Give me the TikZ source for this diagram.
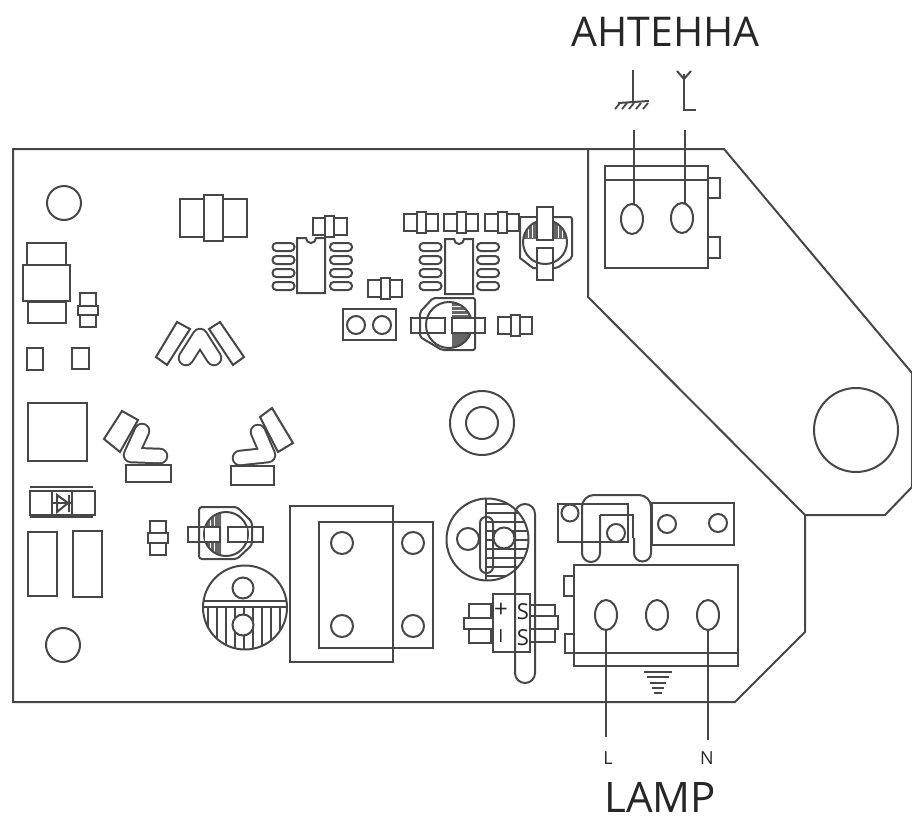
\documentclass[tikz,border=0pt]{standalone}
\usepackage{fontspec}
\setmainfont{Open Sans}
\colorlet{ink}{black!72}
\tikzset{
 ln/.style={line width=2pt,draw=ink},
 thin ln/.style={line width=2pt,draw=ink},
 lbl/.style={inner sep=0pt,text=black!85}
}
\newcommand{\Chip}[3]{%
 \begin{scope}[shift={(#1,#2)},rotate=#3]
 \draw[thin ln] (-17,-8.5) rectangle (17,8.5);
 \draw[thin ln,fill=white] (-4.5,-10.5) rectangle (4.5,10.5);
 \end{scope}}
\newcommand{\Pads}[2]{%
 \foreach \k in {0,1,2,3}{
  \draw[thin ln,rounded corners=3.8pt] (#1-11,#2+\k*13-4) rectangle (#1+11,#2+\k*13+4);}}
\newcommand{\Soic}[2]{%
 \draw[thin ln] (#1,#2) -- (#1+9,#2) arc[start angle=180,end angle=0,radius=5] -- (#1+28,#2) -- (#1+28,#2+55) -- (#1,#2+55) -- cycle;}
\newcommand{\Capsule}[1]{%
 \draw[line width=16.5pt,draw=ink,line cap=round,line join=round] #1;
 \draw[line width=12.5pt,draw=white,line cap=round,line join=round] #1;}
\begin{document}
\begin{tikzpicture}[x=1pt,y=-1pt]
\useasboundingbox (0,0) rectangle (912,819);
% board
\draw[ln] (13,149) -- (724,149) -- (912,373) -- (912,487) -- (885,515) -- (805,515) -- (805,632) -- (735,702) -- (13,702) -- cycle;
\draw[ln] (588,149) -- (588,297) -- (805,515);
% antenna block
\draw[ln] (605,166) rectangle (708,268);
\draw[ln] (605,180) -- (708,180);
\draw[ln] (708,178) rectangle (720,198);
\draw[ln] (708,237) rectangle (720,258);
\draw[ln] (632,219) ellipse (11 and 15);
\draw[ln] (682,218) ellipse (11 and 15);
\coordinate (a1) at (634,130); \coordinate (a2) at (685,130);
\draw[ln] (a1) -- (634,204);
\draw[ln] (a2) -- (685,203);
% ground symbol
\draw[ln] (633,70) -- (633,102);
\draw[thin ln] (618,103) -- (649,101);
\foreach \i in {0,1,2,3,4}{\draw[line width=1.8pt,draw=ink] (620+\i*7,103) -- (615+\i*7,109);}
% antenna symbol
\draw[ln] (684,74) -- (684,110) -- (696,110);
\draw[thin ln] (677,71) -- (684,79) -- (691,71);
% mount holes
\draw[ln] (856,430) circle (42);
\draw[ln] (64,203) circle (17);
\draw[ln] (63,645) circle (17);
\draw[ln] (482,423) circle (32);
\draw[ln] (482,423) circle (16);
% left top component
\draw[ln] (27,243) rectangle (66,265);
\draw[ln] (28,302) rectangle (66,323);
\draw[ln,fill=white] (23,265) rectangle (70,301);
\draw[thin ln] (80,293) rectangle (96,327);
\draw[thin ln,fill=white] (78,306) rectangle (98,315);
\draw[ln] (27,348) rectangle (43,370);
\draw[ln] (72,348) rectangle (89,369);
% big resistor top
\draw[ln] (180,199) rectangle (247,237);
\draw[ln,fill=white] (204,195) rectangle (223,241);
% V group
\draw[ln] (177,322) -- (190,329) -- (167,365) -- (156,357) -- cycle;
\draw[ln] (220,322) -- (209,329) -- (233,365) -- (244,357) -- cycle;
\Capsule{(186,358) -- (200,336) -- (214,358)}
% SOIC left
\Chip{329.5}{226}{0}
\Soic{297}{238}
\Pads{283.5}{247}
\Pads{341}{247}
% SOIC right
\Chip{421}{222}{0}
\Chip{461}{222}{0}
\Chip{502}{222}{0}
\Soic{445}{239}
\Pads{430.5}{247}
\Pads{488}{247}
\Chip{385}{288}{0}
\Chip{515}{325.5}{0}
% jumper
\draw[ln] (343,309) rectangle (396,340);
\draw[thin ln] (356,325) circle (9);
\draw[thin ln] (382,325) circle (9);
% capacitor middle
\begin{scope}
\clip (452,300) rectangle (476,350);
\fill[black!60] (449,325) circle (23);
\foreach \y in {306,310,314}{\draw[white,line width=.7pt] (452,\y) -- (476,\y);}
\end{scope}
\draw[thin ln,fill=white] (411,318) rectangle (445,333);
\draw[thin ln,fill=white] (452,318) rectangle (485,333);
\draw[ln] (449,325) circle (23);
\fill[white] (453,319) rectangle (484,332);
\fill[white] (412,319) rectangle (420,332);
\draw[ln,rounded corners=2pt] (433,298) -- (475,298) -- (475,350) -- (442,350) -- (420,337) -- (420,312) -- cycle;
% capacitor top right
\begin{scope}
\clip (520,220) rectangle (570,238);
\fill[black!60] (545,242) circle (22);
\foreach \x in {528,532,558,562}{\draw[white,line width=.7pt] (\x,220) -- (\x,238);}
\end{scope}
\draw[thin ln,fill=white] (537,207) rectangle (553,240);
\draw[thin ln,fill=white] (537,248) rectangle (553,280);
\draw[ln] (545,242) circle (22);
\fill[white] (538,208) rectangle (552,239);
\fill[white] (538,249) rectangle (552,255);
\draw[ln] (520,217) -- (537,217);
\draw[ln,rounded corners=2pt] (553,217) -- (572,217) -- (572,258) -- (557,268) -- (553,268);
\draw[ln] (537,268) -- (533,268) -- (520,258) -- (520,217);
% Left V pieces
\draw[ln] (122,411) -- (138,420) -- (120,452) -- (104,439) -- cycle;
\Capsule{(142,431) -- (131,455) -- (160,456)}
\draw[ln] (126,465) rectangle (171,482);
\draw[ln] (272,408) -- (293,443) -- (278,452) -- (260,417) -- cycle;
\Capsule{(258,432) -- (268,455) -- (240,458)}
\draw[ln] (231,466) rectangle (274,485);
% square
\draw[ln] (28,403) rectangle (87,461);
% diode
\draw[ln] (30,487) -- (93,487);
\draw[ln] (30,491) rectangle (95,515);
\draw[ln] (30,517) -- (93,517);
\draw[thin ln] (52,491) -- (52,515);
\draw[thin ln] (72,491) -- (72,515);
\draw[thin ln] (57,495) -- (68,503) -- (57,512) -- cycle;
\draw[thin ln] (69,495) -- (69,512);
\draw[thin ln] (52,503) -- (72,503);
% rects
\draw[ln] (28,532) rectangle (57,596);
\draw[ln] (73,531) rectangle (102,597);
% small vertical chip
\draw[thin ln] (150,521) rectangle (166,555);
\draw[thin ln,fill=white] (148,533) rectangle (168,543);
% cap lower left
\begin{scope}
\clip (204,510) rectangle (221,558);
\fill[black!60] (226,534) circle (22);
\foreach \x in {210,214}{\draw[white,line width=.7pt] (\x,510) -- (\x,558);}
\end{scope}
\draw[thin ln,fill=white] (188,527) rectangle (220,542);
\draw[thin ln,fill=white] (228,527) rectangle (263,542);
\draw[ln] (226,534) circle (22);
\fill[white] (205,528) rectangle (219,541);
\fill[white] (229,528) rectangle (247,541);
\draw[ln,rounded corners=3pt] (199,507) -- (237,507) -- (252,522) -- (252,545) -- (237,559) -- (199,559) -- cycle;
% hatched cap lower-left
\begin{scope}
\clip (245,607.5) circle (42);
\foreach \x in {208,217,...,281}{\draw[thin ln] (\x,606) -- (\x,650);}
\draw[ln] (200,601) -- (290,601);
\draw[ln] (200,607) -- (290,607);
\end{scope}
\draw[ln] (245,607.5) circle (42);
\draw[ln,fill=white] (243,588) circle (10.5);
\draw[ln,fill=white] (243,625) circle (10.5);
% big relay
\draw[ln] (290,506) rectangle (393,662);
\draw[ln] (319,522) rectangle (433,648);
\foreach \p in {(342,543),(413,543),(342,626),(413,626)}{\draw[ln] \p circle (11);}
% hatched cap right
\begin{scope}
\clip (487.5,539.5) circle (41);
\foreach \y in {504,513,...,576}{\draw[thin ln] (486,\y) -- (530,\y);}
\draw[thin ln] (486,495) -- (486,585);
\end{scope}
\draw[ln] (487.5,539.5) circle (41);
\draw[ln,rounded corners=6pt] (480,517) rectangle (493,573);
\draw[ln,fill=white] (468,539) circle (11);
\draw[ln,fill=white] (504,538) circle (10.5);
% sensor block
\draw[thin ln] (469,604) rectangle (491,643);
\draw[thin ln,fill=white] (464,618) rectangle (493,629);
\draw[thin ln] (530,605) rectangle (555,642);
\draw[thin ln,fill=white] (530,616) rectangle (558,629);
\draw[ln,fill=white] (493,594) rectangle (530,652);
\node[lbl,font=\fontsize{24}{24}\selectfont] (plus) at (501,610) {+};
\node[lbl,font=\fontsize{18}{18}\selectfont] (minus) at (501,636) {I};
\node[lbl,font=\fontsize{22}{22}\selectfont] (s1) at (523,612) {S};
\node[lbl,font=\fontsize{22}{22}\selectfont] (s2) at (523,638) {S};
% long loop
\draw[ln,rounded corners=9.9pt] (515,504) rectangle (535,683);
% right top jumper pads
\draw[ln] (558,504) rectangle (628,542);
\draw[ln] (570,513) circle (8.5);
\draw[ln] (616,533) circle (9);
\draw[ln] (652,503) rectangle (734,545);
\draw[ln] (667,524) circle (9);
\draw[ln] (718,523) circle (9);
\draw[ln] (600,515) -- (600,553) arc[start angle=0,end angle=180,radius=9] -- (582,507) arc[start angle=180,end angle=270,radius=12] -- (639,495) arc[start angle=270,end angle=360,radius=12] -- (651,553) arc[start angle=0,end angle=180,radius=8.5] -- (634,538);
\draw[ln] (600,515) -- (633,515) -- (633,538);
% lamp block
\draw[ln] (574,565) rectangle (738,666);
\draw[ln] (565,653) -- (738,653);
\draw[ln] (564,576) rectangle (574,596);
\draw[ln] (565,634) rectangle (574,653);
\draw[ln] (606,615) ellipse (11 and 15);
\draw[ln] (657,615) ellipse (11 and 15);
\draw[ln] (708,615) ellipse (11 and 15);
\coordinate (wl) at (606,737); \coordinate (wn) at (708,740);
\draw[ln] (606,630) -- (wl);
\draw[ln] (708,630) -- (wn);
% earth
\foreach \y/\w in {672/14,677/11,683/8,688/6,693/4}{\draw[thin ln] (658-\w,\y) -- (658+\w,\y);}
% labels
\node[lbl,font=\fontsize{41}{41}\selectfont,anchor=base] (ant) at (665.5,46) {АНТЕННА};
\node[lbl,font=\fontsize{42}{42}\selectfont,anchor=base] (lamp) at (660,812) {LAMP};
\node[lbl,font=\fontsize{18}{18}\selectfont] (L) at (608,758) {L};
\node[lbl,font=\fontsize{18}{18}\selectfont] (N) at (707,758) {N};
\end{tikzpicture}
\end{document}
